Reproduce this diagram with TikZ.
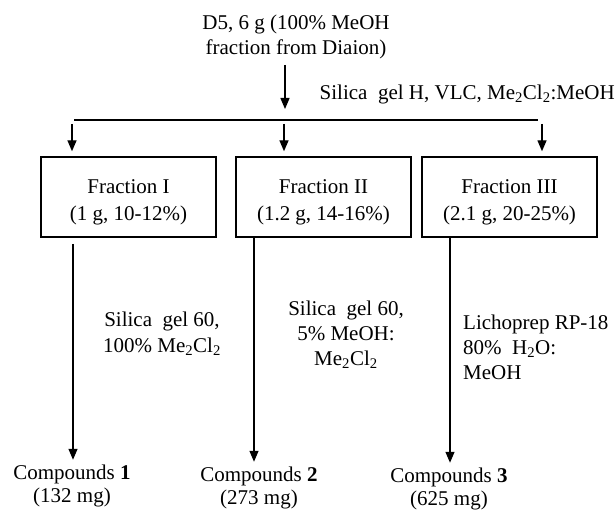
\documentclass[tikz,border=0pt]{standalone}
\usepackage{fontspec}
\setmainfont{Liberation Serif}
\usetikzlibrary{arrows.meta}
\begin{document}
\begin{tikzpicture}[x=1pt,y=-1pt,
  every node/.style={inner sep=0pt, font=\fontsize{21}{25}\selectfont},
  arr/.style={line width=1.4pt,-{Triangle[width=9pt,length=11pt]}},
  ln/.style={line width=1.4pt},
  fbox/.style={draw, line width=1.4pt, minimum width=175pt, minimum height=80pt},
  ftxt/.style={align=center, font=\fontsize{21}{27}\selectfont},
  txt/.style={align=center},
  cmp/.style={align=center, font=\fontsize{21}{23}\selectfont}]
\useasboundingbox (0,0) rectangle (616,513);

% source
\node[txt] (src) at (296,37) {D5, 6 g (100\% MeOH\\fraction from Diaion)};
\coordinate (a0) at (285,65);
\coordinate (a1) at (285,109);
\draw[arr] (a0) -- (a1);

\node[anchor=east] (vlc) at (615,94) {Silica\ \ gel H, VLC, Me\textsubscript{2}Cl\textsubscript{2}:MeOH};

% splitter
\coordinate (hl) at (74,120);
\coordinate (hr) at (538,120);
\draw[ln] (hl) -- (hr);

% fractions
\node[fbox] (f1) at (128.5,197) {};
\node[fbox] (f2) at (323.5,197) {};
\node[fbox] (f3) at (509.5,197) {};
\node[ftxt] (f1t) at ([yshift=-5pt]f1.center) {Fraction I\\(1 g, 10-12\%)};
\node[ftxt] (f2t) at ([yshift=-5pt]f2.center) {Fraction II\\(1.2 g, 14-16\%)};
\node[ftxt] (f3t) at ([yshift=-5pt]f3.center) {Fraction III\\(2.1 g, 20-25\%)};

\coordinate (d1) at (72,124);
\coordinate (d2) at (284,124);
\coordinate (d3) at (542,124);
\draw[arr, shorten >=5pt] (d1) -- (d1 |- f1.north);
\draw[arr, shorten >=5pt] (d2) -- (d2 |- f2.north);
\draw[arr, shorten >=5pt] (d3) -- (d3 |- f3.north);

% conditions
\node[align=center, font=\fontsize{21}{26}\selectfont] (c1) at (162,334) {Silica\ \ gel 60,\\100\% Me\textsubscript{2}Cl\textsubscript{2}};
\node[txt] (c2) at (346,335) {Silica\ \ gel 60,\\5\% MeOH:\\Me\textsubscript{2}Cl\textsubscript{2}};
\node[align=left, anchor=west] (c3) at (463,347) {Lichoprep RP-18\\80\%\ \ H\textsubscript{2}O:\\MeOH};

% compounds
\node[cmp] (p1) at (72,486) {Compounds \textbf{1}\\(132 mg)};
\node[cmp] (p2) at (259,488) {Compounds \textbf{2}\\(273 mg)};
\node[cmp] (p3) at (449,489) {Compounds \textbf{3}\\(625 mg)};

\coordinate (e1) at (73,244);
\coordinate (e2) at (254,237);
\coordinate (e3) at (450,237);
\draw[arr, shorten >=5pt] (e1) -- (e1 |- p1.north);
\draw[arr, shorten >=5pt] (e2) -- (e2 |- p2.north);
\draw[arr, shorten >=5pt] (e3) -- (e3 |- p3.north);
\end{tikzpicture}
\end{document}
